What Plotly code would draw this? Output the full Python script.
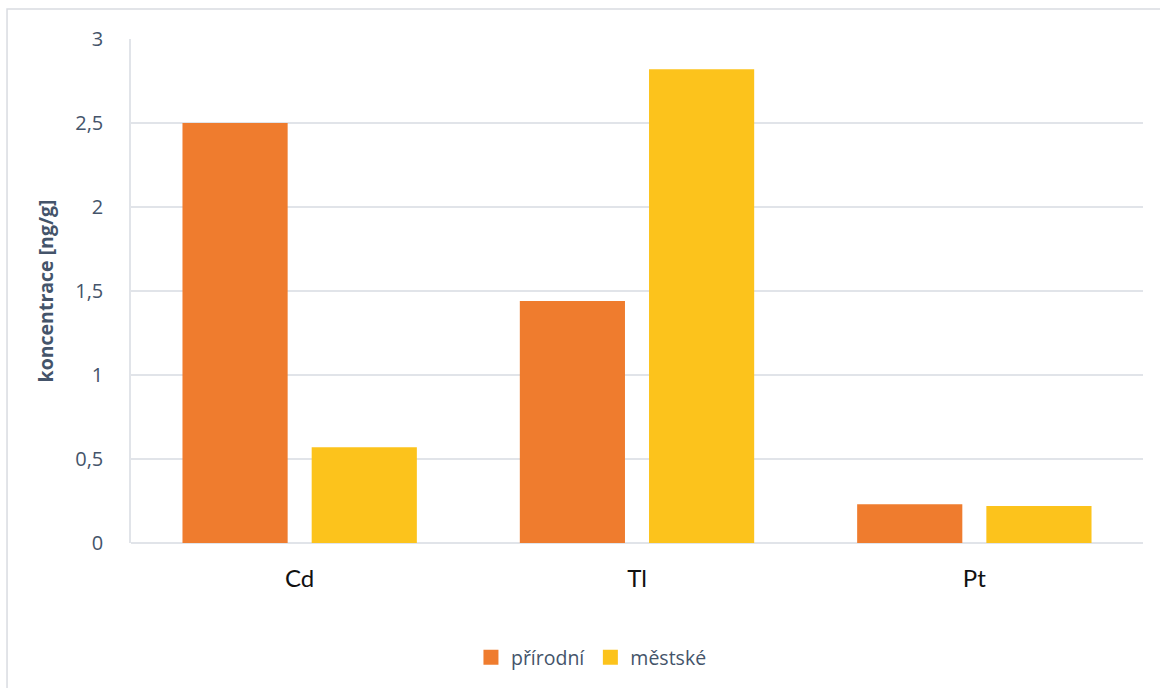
import plotly.graph_objects as go

categories = ["Cd", "Tl", "Pt"]
prirodni = [2.50, 1.44, 0.23]
mestske = [0.57, 2.82, 0.22]
series_names = ["přírodní", "městské"]
y_ticks = [0, 0.5, 1, 1.5, 2, 2.5, 3]
colors = ["#EF7C2E", "#FCC31C"]

fig = go.Figure()
for name, vals, col in zip(series_names, [prirodni, mestske], colors):
    fig.add_trace(go.Bar(x=categories, y=vals, name=name, showlegend=False,
                         marker=dict(color=col, line=dict(width=0))))
# legend entries with larger square swatches
for name, col in zip(series_names, colors):
    fig.add_trace(go.Scatter(x=[None], y=[None], mode="markers", name=name,
                             marker=dict(symbol="square", size=15, color=col)))

fig.update_layout(
    width=1160, height=688,
    margin=dict(l=131, r=17, t=39, b=144),
    paper_bgcolor="white", plot_bgcolor="white",
    separators=", ",
    barmode="group", bargap=0.234, bargroupgap=0.186,
    font=dict(family="Open Sans, sans-serif", color="#44546A"),
    legend=dict(orientation="h", x=0.455, xanchor="center", y=-0.225, yanchor="middle",
                font=dict(size=19.5, color="#44546A"), itemwidth=30, traceorder="normal",
                tracegroupgap=0),
    xaxis=dict(showgrid=False, showline=False, ticks="",
               tickfont=dict(size=24, color="#111111", family="Lato, sans-serif"),
               ticklabelstandoff=19),
    yaxis=dict(range=[0, 3], tickvals=y_ticks, showgrid=True, gridcolor="#E1E4E9", gridwidth=1.5,
               zeroline=True, zerolinecolor="#E1E4E9", zerolinewidth=1.5,
               showline=True, linecolor="#E1E4E9", linewidth=1.5,
               ticks="", tickfont=dict(size=20, color="#44546A"), ticklabelstandoff=22,
               title=dict(text="<b>koncentrace [ng/g]</b>", font=dict(size=19.5, color="#44546A"),
                          standoff=16)),
    showlegend=True,
)

fig.add_shape(type="rect", xref="paper", yref="paper",
              x0=-0.1225, x1=1.03, y0=-0.32, y1=1.0594,
              line=dict(color="#D9DCE1", width=1.5), fillcolor="rgba(0,0,0,0)", layer="below")

fig.write_html("out.html")
